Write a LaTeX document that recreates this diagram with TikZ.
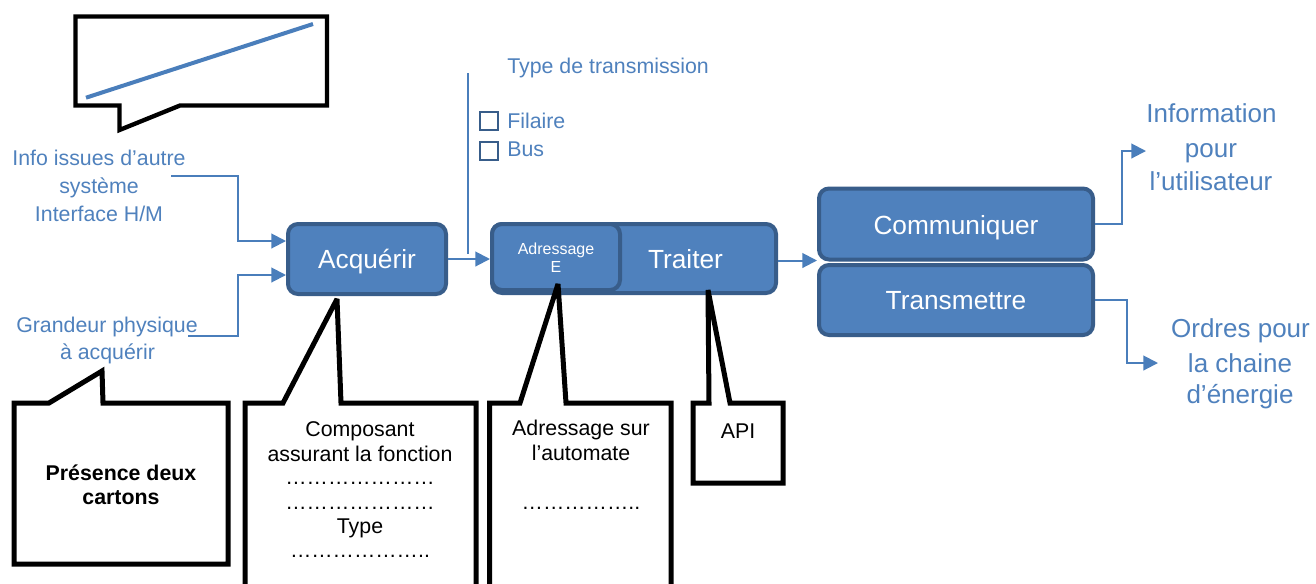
\documentclass[tikz,border=0pt]{standalone}
\usepackage{fontspec}
\setmainfont{Liberation Sans}
\usetikzlibrary{arrows.meta}
\definecolor{boxfill}{HTML}{4F81BD}
\definecolor{boxedge}{HTML}{385D8A}
\definecolor{flow}{HTML}{4A7EBB}
\definecolor{note}{HTML}{4F81BD}
\tikzset{
  fbox/.style={draw=boxedge, fill=boxfill, line width=3pt, rounded corners=7.5pt, inner sep=0pt},
  flowarrow/.style={draw=flow, line width=1.5pt, -{Triangle[length=11pt,width=11pt]}},
  flowline/.style={draw=flow, line width=1.5pt},
  bluetxt/.style={text=note, font=\fontsize{16}{19}\selectfont, inner sep=0pt, anchor=base},
  bigtxt/.style={text=note, font=\fontsize{19.5}{23}\selectfont, inner sep=0pt, anchor=base},
  boxtxt/.style={text=white, font=\fontsize{19.7}{23}\selectfont, inner sep=0pt, anchor=base},
  smallboxtxt/.style={text=white, font=\fontsize{12}{14}\selectfont, inner sep=0pt, anchor=base},
  blacktxt/.style={text=black, font=\fontsize{16}{19}\selectfont, inner sep=0pt, anchor=base},
  boldtxt/.style={text=black, font=\fontsize{16}{19}\selectfont\bfseries, inner sep=0pt, anchor=base},
  bubble/.style={draw=black, fill=white, line width=3.75pt, line join=miter, miter limit=2},
  tickbox/.style={draw=boxedge, line width=1.1pt, minimum size=13.5pt, inner sep=0pt},
}
\begin{document}
\begin{tikzpicture}[x=0.75pt, y=-0.75pt]
\useasboundingbox (0,0) rectangle (1316,583);
\clip (0,0) rectangle (1316,583);
\fill[white] (0,0) rectangle (1316,583);

% speech bubble with the sketched slope
\draw[bubble, line width=3.25pt] (75.5,16.5) -- (327,16.5) -- (327,105.5) -- (180,105.5)
  -- (119.5,130) -- (119.5,105.5) -- (75.5,105.5) -- cycle;
\draw[draw=flow, line width=3pt] (86,97.7) -- (313,24);

% inputs
\node[bluetxt] (info1) at (99,165) {Info issues d’autre};
\node[bluetxt] (info2) at (99,193) {système};
\node[bluetxt] (info3) at (99,221) {Interface H/M};
\node[bluetxt] (grand1) at (107,332) {Grandeur physique};
\node[bluetxt] (grand2) at (107.5,359) {à acquérir};

% function blocks
\node[fbox, minimum width=118.5pt, minimum height=52.5pt] (acq) at (367,259) {};
\node[fbox, minimum width=213pt, minimum height=51.75pt] (trait) at (634,258.5) {};
\node[fbox, minimum width=96pt, minimum height=49.5pt] (adr) at (556,257) {};
\node[fbox, minimum width=205.5pt, minimum height=53.25pt] (com) at (956,224) {};
\node[fbox, minimum width=205.5pt, minimum height=52.5pt] (trans) at (956,300) {};

\node[boxtxt] (acqlbl) at (367,268) {Acquérir};
\node[smallboxtxt] (adrlbl) at (556,254.5) {Adressage};
\node[smallboxtxt] (adrE) at (556,272.5) {E};
\node[boxtxt] (traitlbl) at (685.5,268) {Traiter};
\node[boxtxt] (comlbl) at (956,234) {Communiquer};
\node[boxtxt] (translbl) at (956,309.5) {Transmettre};

% transmission choice
\node[bluetxt, anchor=base west] (ttype) at (507,73) {Type de transmission};
\node[tickbox] (ckfil) at (489,121) {};
\node[tickbox] (ckbus) at (489,151) {};
\node[bluetxt, anchor=base west] (tfil) at (507,128) {Filaire};
\node[bluetxt, anchor=base west] (tbus) at (507,156) {Bus};

% outputs
\node[bigtxt] (out1) at (1211.5,122) {Information};
\node[bigtxt] (out2) at (1211,157) {pour};
\node[bigtxt] (out3) at (1211,190) {l’utilisateur};
\node[bigtxt] (ord1) at (1240.5,337) {Ordres pour};
\node[bigtxt] (ord2) at (1240,372) {la chaine};
\node[bigtxt] (ord3) at (1240,403) {d’énergie};

% connectors
\coordinate (infoout) at (171,176);
\coordinate (kneeA) at (238,241);
\coordinate (grout) at (188,336);
\coordinate (kneeB) at (238,275);
\coordinate (ttop) at (468,73);
\coordinate (tbot) at (468,254);
\coordinate (kneeC) at (1122,151);
\coordinate (outin) at (1146,151);
\coordinate (kneeD) at (1127,363);
\coordinate (ordin) at (1158,363);

\draw[flowarrow] (infoout) -| (kneeA) -- (kneeA -| acq.west);
\draw[flowarrow] (grout) -| (kneeB) -- (kneeB -| acq.west);
\draw[flowarrow] (acq.east) -- (acq.east -| trait.west);
\draw[flowline] (ttop) -- (tbot);
\draw[flowarrow] ([yshift=-1.5pt]trait.east) -- ([yshift=-1.5pt]trait.east -| com.west);
\draw[flowarrow] (com.east) -| (kneeC) -- (outin);
\draw[flowarrow] (trans.east) -| (kneeD) -- (ordin);

% annotation bubbles
\draw[bubble] (14,403) -- (49,403) -- (102,371) -- (103,403) -- (228,403)
  -- (228,564) -- (14,564) -- cycle;
\draw[bubble] (245,640) -- (245,403) -- (283,403) -- (337,299) -- (341,403)
  -- (476,403) -- (476,640) -- cycle;
\draw[bubble] (489.5,640) -- (489.5,403) -- (520,403) -- (558,284) -- (566,403)
  -- (671,403) -- (671,640) -- cycle;
\draw[bubble] (693,483) -- (693,403) -- (709,403) -- (708,290) -- (730,403)
  -- (783,403) -- (783,483) -- cycle;

\node[boldtxt] (pres1) at (121,480) {Présence deux};
\node[boldtxt] (pres2) at (121,504) {cartons};

\node[blacktxt] (comp1) at (360,436) {Composant};
\node[blacktxt] (comp2) at (360,461) {assurant la fonction};
\node[blacktxt] (comp3) at (360,484) {…………………};
\node[blacktxt] (comp4) at (360,509) {…………………};
\node[blacktxt] (comp5) at (360,533) {Type};
\node[blacktxt] (comp6) at (360,557) {………………..};

\node[blacktxt] (auto1) at (581,435) {Adressage sur};
\node[blacktxt] (auto2) at (581,460) {l’automate};
\node[blacktxt] (auto3) at (581,509) {……………..};

\node[blacktxt] (api) at (738,438) {API};
\end{tikzpicture}
\end{document}
